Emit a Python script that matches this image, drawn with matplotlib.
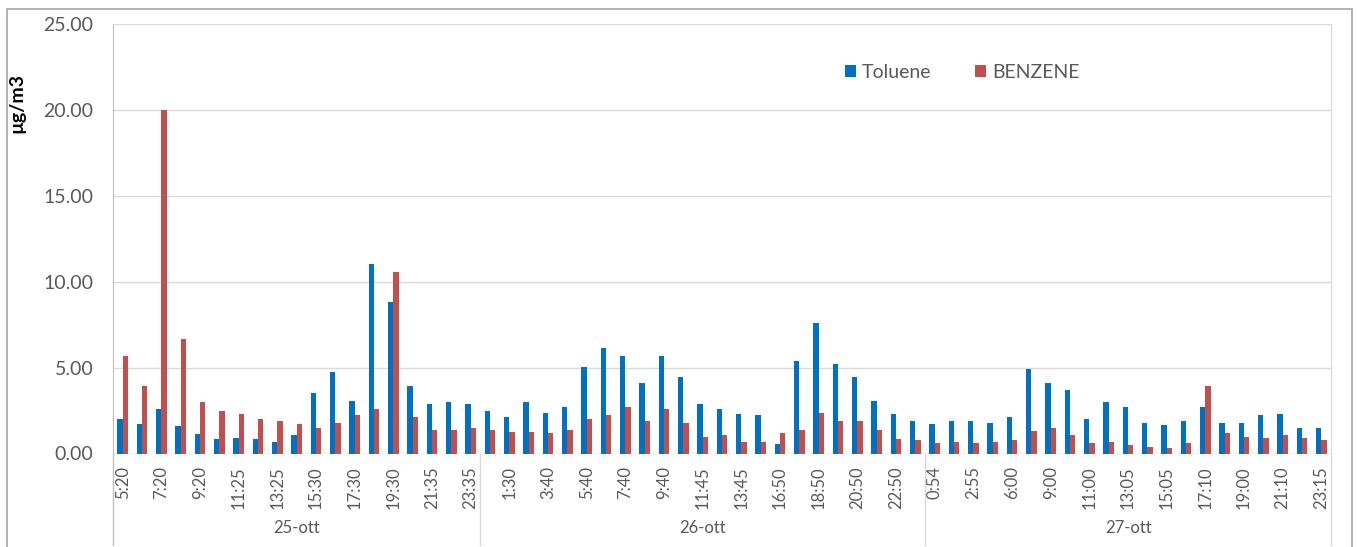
# Toluene / benzene concentration bar chart, three days of hourly samples

import numpy as np
import matplotlib.pyplot as plt
from matplotlib.lines import Line2D
from matplotlib.patches import Rectangle

# Sample times for each day
times_25 = ['5:20', '6:20', '7:20', '8:20', '9:20', '10:20', '11:25', '12:25', '13:25', '14:25',
            '15:30', '16:30', '17:30', '18:30', '19:30', '20:30', '21:35', '22:35', '23:35']
times_26 = ['0:30', '1:30', '2:35', '3:40', '4:40', '5:40', '6:40', '7:40', '8:40', '9:40',
            '10:45', '11:45', '12:45', '13:45', '15:00', '16:50', '17:50', '18:50', '19:50',
            '20:50', '21:50', '22:50', '23:50']
times_27 = ['0:54', '1:55', '2:55', '4:00', '6:00', '7:00', '9:00', '10:00', '11:00', '12:00',
            '13:05', '14:05', '15:05', '16:05', '17:10', '18:00', '19:00', '20:05', '21:10',
            '22:10', '23:15']
days = ['25-ott', '26-ott', '27-ott']

# Concentrations in ug/m3
toluene = [1.99, 1.72, 2.57, 1.60, 1.12, 0.83, 0.88, 0.83, 0.69, 1.08,
           3.50, 4.76, 3.08, 11.03, 8.84, 3.93, 2.88, 3.02, 2.88,
           2.49, 2.10, 3.02, 2.38, 2.73, 5.02, 6.12, 5.67, 4.08, 5.67,
           4.43, 2.88, 2.57, 2.30, 2.22, 0.55, 5.40, 7.62, 5.21, 4.43,
           3.08, 2.30, 1.87,
           1.72, 1.87, 1.87, 1.80, 2.10, 4.90, 4.08, 3.70, 1.99, 3.02,
           2.73, 1.80, 1.68, 1.87, 2.73, 1.80, 1.80, 2.22, 2.30, 1.50, 1.47]
benzene = [5.67, 3.93, 20.00, 6.65, 3.00, 2.50, 2.30, 1.99, 1.87, 1.72,
           1.50, 1.80, 2.22, 2.57, 10.58, 2.10, 1.37, 1.37, 1.50,
           1.37, 1.27, 1.27, 1.17, 1.37, 1.99, 2.22, 2.69, 1.87, 2.57,
           1.80, 0.98, 1.08, 0.69, 0.69, 1.17, 1.37, 2.38, 1.87, 1.87,
           1.37, 0.86, 0.79,
           0.59, 0.69, 0.59, 0.69, 0.79, 1.31, 1.47, 1.08, 0.59, 0.69,
           0.49, 0.36, 0.30, 0.59, 3.93, 1.17, 0.98, 0.88, 1.08, 0.88, 0.79]

labels = times_25 + times_26 + times_27
day_sizes = [len(times_25), len(times_26), len(times_27)]

plt.rcParams['font.family'] = ['Lato', 'DejaVu Sans']
text_col = '#595959'
line_col = '#D9D9D9'

fig = plt.figure(figsize=(13.57, 5.47), dpi=100)
ax = fig.add_axes([113 / 1357, 1 - 453.5 / 547, 1218 / 1357, 429.5 / 547])

x = np.arange(len(labels))
w = 0.28
ax.bar(x - w / 2, toluene, w, color='#0070C0', label='Toluene', zorder=3)
ax.bar(x + w / 2, benzene, w, color='#C0504D', label='BENZENE', zorder=3)

# Axes and grid
ax.set_xlim(-0.5, len(labels) - 0.5)
ax.set_ylim(0, 25)
ax.set_yticks(np.arange(0, 26, 5))
ax.set_yticklabels(['%.2f' % v for v in np.arange(0, 26, 5)])
ax.yaxis.grid(True, color=line_col, lw=1, zorder=0)
ax.tick_params(axis='y', length=0, pad=14, labelsize=14, labelcolor=text_col)

ax.set_xticks(x[::2])
ax.set_xticklabels(labels[::2], rotation=90)
ax.tick_params(axis='x', length=0, pad=9, labelsize=12, labelcolor=text_col)

for s in ['top', 'bottom']:
    ax.spines[s].set_visible(False)
ax.spines['left'].set_color('#BFBFBF')
ax.spines['right'].set_color(line_col)
ax.axhline(0, color=line_col, lw=1, zorder=2)

ax.set_ylabel('µg/m3', fontsize=14, fontweight='bold', color='black')
ax.yaxis.set_label_coords(-0.072, 0.815)

# Day group labels and separators below the axis
bottom = -(545 - 453.5) / 429.5
start = 0
for d, n in zip(days, day_sizes):
    ax.text(start + n / 2 - 0.5, -(528 - 453.5) / 429.5, d, ha='center', va='center',
            fontsize=12, color=text_col, transform=ax.get_xaxis_transform())
    start += n
edges = np.cumsum([0] + day_sizes) - 0.5
for i, e in enumerate(edges):
    c = '#BFBFBF' if i == 0 else line_col
    ax.add_line(Line2D([e, e], [0, bottom], color=c, lw=1, clip_on=False,
                       transform=ax.get_xaxis_transform()))

# Legend
fig.legend(loc='center', bbox_to_anchor=(0.709, 0.868), ncol=2, frameon=False,
           fontsize=14, labelcolor=text_col, handlelength=0.6, handleheight=0.6,
           handletextpad=0.3, columnspacing=2.2)

# Outer chart border
fig.add_artist(Rectangle((7 / 1357, -0.01), 1345 / 1357, 1 - 9 / 547 + 0.01,
                         transform=fig.transFigure, fill=False, edgecolor='#A6A6A6', lw=1.2))

plt.savefig('out.png', dpi=100)
